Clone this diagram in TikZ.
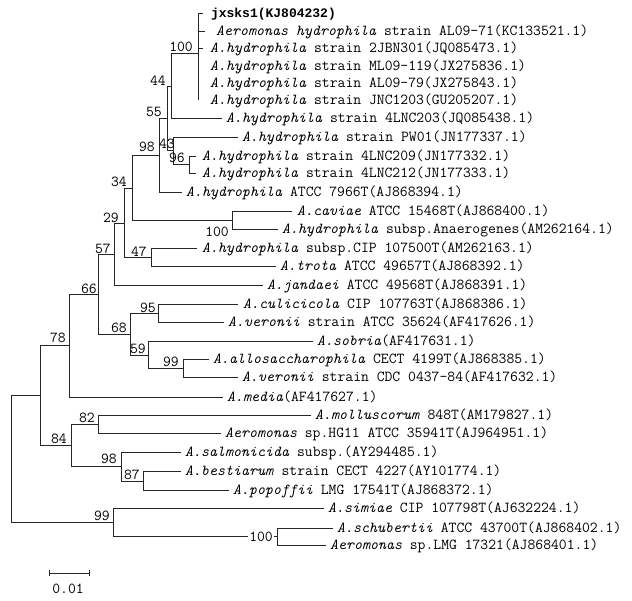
\documentclass[tikz,border=0pt]{standalone}
\usepackage{fontspec}
\newfontfamily\boldmono{Liberation Mono}
\begin{document}
\begin{tikzpicture}[x=1pt,y=-1pt,
  font=\ttfamily\fontsize{15.24}{18}\selectfont,
  br/.style={draw=black!85, line width=0.9pt},
  leaf/.style={anchor=west, inner sep=0pt, outer xsep=#1, text height=9.6pt, text depth=0pt},
  leaf/.default=4pt,
  bs/.style={anchor=base east, inner sep=0pt}]
\useasboundingbox (0,0) rectangle (632,601);
% internal nodes
\coordinate (root) at (11,458);
\coordinate (nA) at (40,395);
\coordinate (n78) at (69,345);
\coordinate (n66) at (98,294);
\coordinate (n57) at (114,254);
\coordinate (n29) at (124,223);
\coordinate (n34) at (132,188);
\coordinate (n98a) at (159,155);
\coordinate (n55) at (167,118);
\coordinate (n44) at (171,86);
\coordinate (n100a) at (198,53);
\coordinate (n43) at (173,150);
\coordinate (n96) at (189,164);
\coordinate (n100b) at (232,220);
\coordinate (n47) at (151,257);
\coordinate (n68) at (130,334);
\coordinate (n95) at (158,313);
\coordinate (n59) at (148,355);
\coordinate (n99a) at (183,368);
\coordinate (n84) at (71,445);
\coordinate (n82) at (98,424);
\coordinate (n98b) at (121,466);
\coordinate (n87) at (143,481);
\coordinate (n99b) at (113,522);
\coordinate (n100c) at (277,536);
% leaves
\node[leaf=8pt] (L1) at (203,13) {\boldmono\fontsize{13}{16}\selectfont\bfseries jxsks1(KJ804232)};
\node[leaf=11pt] (L2) at (205,31) {\textit{Aeromonas hydrophila} strain AL09-71(KC133521.1)};
\node[leaf=7pt] (L3) at (203,48) {\textit{A.hydrophila} strain 2JBN301(JQ085473.1)};
\node[leaf=12pt] (L4) at (198,66) {\textit{A.hydrophila} strain ML09-119(JX275836.1)};
\node[leaf=12pt] (L5) at (198,83) {\textit{A.hydrophila} strain AL09-79(JX275843.1)};
\node[leaf=12pt] (L6) at (198,100) {\textit{A.hydrophila} strain JNC1203(GU205207.1)};
\node[leaf] (L7) at (222,118) {\textit{A.hydrophila} strain 4LNC203(JQ085438.1)};
\node[leaf] (L8) at (238,137) {\textit{A.hydrophila} strain PW01(JN177337.1)};
\node[leaf=6pt] (L9) at (196,156) {\textit{A.hydrophila} strain 4LNC209(JN177332.1)};
\node[leaf=6pt] (L10) at (196,173) {\textit{A.hydrophila} strain 4LNC212(JN177333.1)};
\node[leaf] (L11) at (182,192) {\textit{A.hydrophila} ATCC 7966T(AJ868394.1)};
\node[leaf=5pt] (L12) at (292,211) {\textit{A.caviae} ATCC 15468T(AJ868400.1)};
\node[leaf] (L13) at (278,229) {\textit{A.hydrophila} subsp.Anaerogenes(AM262164.1)};
\node[leaf=5pt] (L14) at (197,248) {\textit{A.hydrophila} subsp.CIP 107500T(AM262163.1)};
\node[leaf] (L15) at (276,266) {\textit{A.trota} ATCC 49657T(AJ868392.1)};
\node[leaf] (L16) at (263,285) {\textit{A.jandaei} ATCC 49568T(AJ868391.1)};
\node[leaf=5pt] (L17) at (238,304) {\textit{A.culicicola} CIP 107763T(AJ868386.1)};
\node[leaf] (L18) at (224,322) {\textit{A.veronii} strain ATCC 35624(AF417626.1)};
\node[leaf] (L19) at (313,341) {\textit{A.sobria}(AF417631.1)};
\node[leaf] (L20) at (209,359) {\textit{A.allosaccharophila} CECT 4199T(AJ868385.1)};
\node[leaf] (L21) at (238,377) {\textit{A.veronii} strain CDC 0437-84(AF417632.1)};
\node[leaf] (L22) at (223,397) {\textit{A.media}(AF417627.1)};
\node[leaf] (L23) at (311,415) {\textit{A.molluscorum} 848T(AM179827.1)};
\node[leaf] (L24) at (221,433) {\textit{Aeromonas} sp.HG11 ATCC 35941T(AJ964951.1)};
\node[leaf] (L25) at (181,452) {\textit{A.salmonicida} subsp.(AY294485.1)};
\node[leaf] (L26) at (181,471) {\textit{A.bestiarum} strain CECT 4227(AY101774.1)};
\node[leaf] (L27) at (229,490) {\textit{A.popoffii} LMG 17541T(AJ868372.1)};
\node[leaf] (L28) at (324,508) {\textit{A.simiae} CIP 107798T(AJ632224.1)};
\node[leaf] (L29) at (333,528) {\textit{A.schubertii} ATCC 43700T(AJ868402.1)};
\node[leaf] (L30) at (326,545) {\textit{Aeromonas} sp.LMG 17321(AJ868401.1)};
% branches
\draw[br] (root) |- (nA);
\draw[br] (root) |- (n99b);
\draw[br] (nA) |- (n78);
\draw[br] (nA) |- (n84);
\draw[br] (n78) |- (n66);
\draw[br] (n78) |- (L22.west);
\draw[br] (n66) |- (n57);
\draw[br] (n66) |- (n68);
\draw[br] (n57) |- (n29);
\draw[br] (n57) |- (L16.west);
\draw[br] (n29) |- (n34);
\draw[br] (n29) |- (n47);
\draw[br] (n34) |- (n98a);
\draw[br] (n34) |- (n100b);
\draw[br] (n98a) |- (n55);
\draw[br] (n98a) |- (L11.west);
\draw[br] (n55) |- (n44);
\draw[br] (n55) |- (n43);
\draw[br] (n44) |- (n100a);
\draw[br] (n44) |- (L7.west);
\draw[br] (n100a) |- (L1.west);
\draw[br] (n100a) |- (L2.west);
\draw[br] (n100a) |- (L3.west);
\draw[br] (n100a) |- (L4.west);
\draw[br] (n100a) |- (L5.west);
\draw[br] (n100a) |- (L6.west);
\draw[br] (n43) |- (L8.west);
\draw[br] (n43) |- (n96);
\draw[br] (n96) |- (L9.west);
\draw[br] (n96) |- (L10.west);
\draw[br] (n100b) |- (L12.west);
\draw[br] (n100b) |- (L13.west);
\draw[br] (n47) |- (L14.west);
\draw[br] (n47) |- (L15.west);
\draw[br] (n68) |- (n95);
\draw[br] (n68) |- (n59);
\draw[br] (n95) |- (L17.west);
\draw[br] (n95) |- (L18.west);
\draw[br] (n59) |- (L19.west);
\draw[br] (n59) |- (n99a);
\draw[br] (n99a) |- (L20.west);
\draw[br] (n99a) |- (L21.west);
\draw[br] (n84) |- (n82);
\draw[br] (n84) |- (n98b);
\draw[br] (n82) |- (L23.west);
\draw[br] (n82) |- (L24.west);
\draw[br] (n98b) |- (L25.west);
\draw[br] (n98b) |- (n87);
\draw[br] (n87) |- (L26.west);
\draw[br] (n87) |- (L27.west);
\draw[br] (n99b) |- (L28.west);
\draw[br] (n99b) |- (n100c);
\draw[br] (n100c) |- (L29.west);
\draw[br] (n100c) |- (L30.west);
% bootstrap values
\node[bs] (b100a) at ([shift={(-5,-1)}]n100a) {100};
\node[bs] (b44) at ([shift={(-5,0)}]n44) {44};
\node[bs] (b55) at ([shift={(-5,-1)}]n55) {55};
\node[bs] (b43) at ([shift={(2,-1)}]n43) {43};
\node[bs] (b96) at ([shift={(-4,-1)}]n96) {96};
\node[bs] (b98a) at ([shift={(-4,-3)}]n98a) {98};
\node[bs] (b34) at ([shift={(-5,-1)}]n34) {34};
\node[bs] (b100b) at ([shift={(-3,17)}]n100b) {100};
\node[bs] (b29) at ([shift={(-5,0)}]n29) {29};
\node[bs] (b47) at ([shift={(-4,0)}]n47) {47};
\node[bs] (b57) at ([shift={(-3,0)}]n57) {57};
\node[bs] (b66) at ([shift={(-1,0)}]n66) {66};
\node[bs] (b68) at ([shift={(-3,-1)}]n68) {68};
\node[bs] (b95) at ([shift={(-2,0)}]n95) {95};
\node[bs] (b59) at ([shift={(-2,-1)}]n59) {59};
\node[bs] (b99a) at ([shift={(-4,-1)}]n99a) {99};
\node[bs] (b78) at ([shift={(-3,-2)}]n78) {78};
\node[bs] (b82) at ([shift={(-3,-1)}]n82) {82};
\node[bs] (b84) at ([shift={(-4,-1)}]n84) {84};
\node[bs] (b98b) at ([shift={(-4,-2)}]n98b) {98};
\node[bs] (b87) at ([shift={(-3,-2)}]n87) {87};
\node[bs] (b99b) at ([shift={(-3,-2)}]n99b) {99};
\node[bs, fill=white, inner xsep=1pt] (b100c) at ([shift={(-3,5)}]n100c) {100};
% scale bar
\coordinate (sb1) at (49,573);
\coordinate (sb2) at (89,573);
\draw[br] (sb1) -- (sb2);
\draw[br] ([shift={(0,-3)}]sb1) -- ([shift={(0,3)}]sb1);
\draw[br] ([shift={(0,-3)}]sb2) -- ([shift={(0,3)}]sb2);
\node[anchor=base, inner sep=0pt] (sbl) at (68,593) {0.01};
\end{tikzpicture}
\end{document}
